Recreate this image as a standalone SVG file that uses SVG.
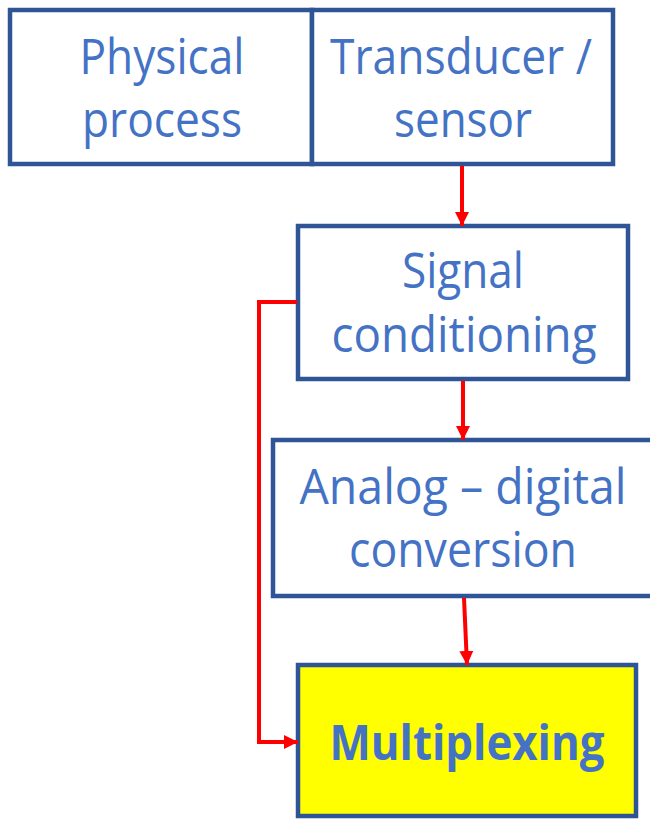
<svg xmlns="http://www.w3.org/2000/svg" width="650" height="819" viewBox="0 0 650 819">
<style>
.box{fill:#ffffff;stroke:#2F5597;stroke-width:4.5}
.yel{fill:#FFFF00;stroke:#2F5597;stroke-width:4.5}
.t{font-family:"Open Sans","Liberation Sans",sans-serif;font-size:49px;fill:#4472C4;text-anchor:middle}
.b{font-weight:bold}
.c{fill:none;stroke:#FF0000;stroke-width:4}
</style>
<defs>
<marker id="ah" markerUnits="userSpaceOnUse" markerWidth="16" markerHeight="16" refX="14" refY="7" orient="auto">
<path d="M0,0 L14,7 L0,14 Z" fill="#FF0000"/>
</marker>
</defs>
<rect width="650" height="819" fill="#ffffff"/>
<g id="physical">
<rect class="box" x="10" y="10" width="302" height="154"/>
<text class="t" x="162" y="74" textLength="165" lengthAdjust="spacingAndGlyphs">Physical</text>
<text class="t" x="162" y="137" textLength="160" lengthAdjust="spacingAndGlyphs">process</text>
</g>
<g id="transducer">
<rect class="box" x="312" y="10" width="301" height="154"/>
<text class="t" x="461" y="74" textLength="262" lengthAdjust="spacingAndGlyphs">Transducer /</text>
<text class="t" x="463" y="137" textLength="138" lengthAdjust="spacingAndGlyphs">sensor</text>
</g>
<g id="signal">
<rect class="box" x="298" y="226" width="330" height="153"/>
<text class="t" x="463" y="288" textLength="122" lengthAdjust="spacingAndGlyphs">Signal</text>
<text class="t" x="464" y="352" textLength="265" lengthAdjust="spacingAndGlyphs">conditioning</text>
</g>
<g id="adc">
<rect class="box" x="273" y="440" width="390" height="156"/>
<text class="t" x="463" y="504" textLength="327" lengthAdjust="spacingAndGlyphs">Analog – digital</text>
<text class="t" x="463" y="567" textLength="228" lengthAdjust="spacingAndGlyphs">conversion</text>
</g>
<g id="mux">
<rect class="yel" x="298" y="665" width="338" height="151"/>
<text class="t b" x="467" y="760" textLength="275" lengthAdjust="spacingAndGlyphs">Multiplexing</text>
</g>
<g id="connectors">
<line class="c" x1="462" y1="166" x2="462" y2="226" marker-end="url(#ah)"/>
<line class="c" x1="463" y1="381" x2="463" y2="440" marker-end="url(#ah)"/>
<line class="c" x1="464" y1="598" x2="467" y2="665" marker-end="url(#ah)"/>
<path class="c" d="M297,302 H259 V742 H298" marker-end="url(#ah)"/>
</g>
</svg>
